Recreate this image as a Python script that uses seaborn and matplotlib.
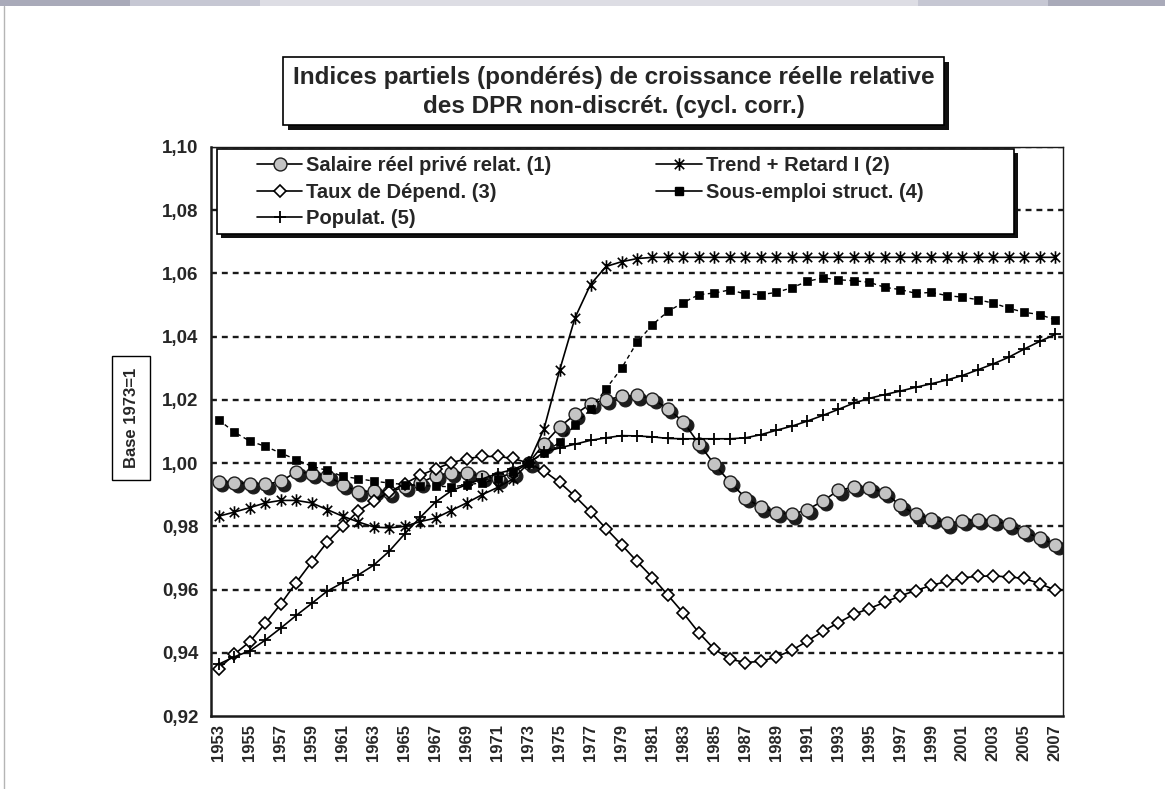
import matplotlib
matplotlib.use("Agg")
import numpy as np
import matplotlib.pyplot as plt
import matplotlib.transforms as mtransforms
from matplotlib.path import Path
from matplotlib.lines import Line2D
from matplotlib.patches import Rectangle
import seaborn as sns

years = list(range(1953, 2008))

salaire = [0.9941, 0.9937, 0.9935, 0.9933, 0.9942, 0.9972, 0.9967, 0.9960, 0.9932, 0.9909,
           0.9912, 0.9908, 0.9925, 0.9937, 0.9960, 0.9970, 0.9969, 0.9957, 0.9952, 0.9970,
           1.0000, 1.0061, 1.0114, 1.0154, 1.0188, 1.0200, 1.0211, 1.0214, 1.0203, 1.0172,
           1.0130, 1.0061, 0.9996, 0.9940, 0.9890, 0.9860, 0.9843, 0.9838, 0.9853, 0.9880,
           0.9914, 0.9924, 0.9921, 0.9907, 0.9866, 0.9838, 0.9824, 0.9809, 0.9817, 0.9821,
           0.9817, 0.9806, 0.9782, 0.9763, 0.9742]

trend = [0.9832, 0.9845, 0.9859, 0.9874, 0.9882, 0.9882, 0.9874, 0.9853, 0.9832, 0.9814,
         0.9798, 0.9795, 0.9800, 0.9815, 0.9826, 0.9850, 0.9874, 0.9900, 0.9923, 0.9950,
         1.0000, 1.0109, 1.0293, 1.0460, 1.0565, 1.0622, 1.0637, 1.0647, 1.0651, 1.0651,
         1.0651, 1.0651, 1.0651, 1.0651, 1.0651, 1.0651, 1.0651, 1.0651, 1.0651, 1.0651,
         1.0651, 1.0651, 1.0651, 1.0651, 1.0651, 1.0651, 1.0651, 1.0651, 1.0651, 1.0651,
         1.0651, 1.0651, 1.0651, 1.0651, 1.0651]

taux = [0.9350, 0.9395, 0.9435, 0.9493, 0.9554, 0.9622, 0.9687, 0.9750, 0.9800, 0.9848,
        0.9880, 0.9908, 0.9935, 0.9961, 0.9982, 1.0001, 1.0014, 1.0021, 1.0021, 1.0015,
        1.0000, 0.9975, 0.9939, 0.9895, 0.9846, 0.9793, 0.9742, 0.9689, 0.9638, 0.9582,
        0.9525, 0.9463, 0.9411, 0.9380, 0.9369, 0.9373, 0.9387, 0.9408, 0.9437, 0.9468,
        0.9495, 0.9522, 0.9540, 0.9560, 0.9580, 0.9597, 0.9613, 0.9626, 0.9637, 0.9642,
        0.9643, 0.9640, 0.9635, 0.9619, 0.9598]

sous_emploi = [1.0137, 1.0098, 1.0070, 1.0053, 1.0032, 1.0011, 0.9990, 0.9977, 0.9958, 0.9951,
               0.9943, 0.9937, 0.9932, 0.9929, 0.9927, 0.9925, 0.9931, 0.9938, 0.9950, 0.9972,
               1.0000, 1.0032, 1.0066, 1.0121, 1.0170, 1.0235, 1.0300, 1.0382, 1.0438, 1.0480,
               1.0508, 1.0533, 1.0538, 1.0548, 1.0535, 1.0533, 1.0540, 1.0555, 1.0575, 1.0586,
               1.0580, 1.0577, 1.0572, 1.0556, 1.0549, 1.0537, 1.0540, 1.0530, 1.0525, 1.0517,
               1.0506, 1.0490, 1.0477, 1.0470, 1.0453]

populat = [0.9364, 0.9387, 0.9406, 0.9440, 0.9478, 0.9518, 0.9556, 0.9595, 0.9622, 0.9646,
           0.9677, 0.9721, 0.9776, 0.9828, 0.9877, 0.9912, 0.9932, 0.9950, 0.9967, 0.9980,
           1.0000, 1.0035, 1.0048, 1.0060, 1.0072, 1.0080, 1.0087, 1.0086, 1.0083, 1.0078,
           1.0077, 1.0077, 1.0077, 1.0077, 1.0080, 1.0090, 1.0104, 1.0117, 1.0133, 1.0151,
           1.0170, 1.0190, 1.0205, 1.0217, 1.0228, 1.0240, 1.0251, 1.0263, 1.0277, 1.0295,
           1.0314, 1.0335, 1.0361, 1.0385, 1.0407]

labels = ["Salaire réel privé relat. (1)", "Trend + Retard I (2)", "Taux de Dépend. (3)",
          "Sous-emploi struct. (4)", "Populat. (5)"]
title = "Indices partiels (pondérés) de croissance réelle relative\ndes DPR non-discrét. (cycl. corr.)"
yticks = [0.92, 0.94, 0.96, 0.98, 1.00, 1.02, 1.04, 1.06, 1.08, 1.10]

sns.set_style("white")
plt.rcParams["font.family"] = ["Liberation Sans", "DejaVu Sans"]
plt.rcParams["font.weight"] = "bold"

W, H = 1165, 789
fig = plt.figure(figsize=(W / 100, H / 100), dpi=100)
fx = lambda x: x / W
fy = lambda y: 1 - y / H

# page decoration (gray band at top, thin line on the left)
for x0, x1, c in [(0, 130, "#a9aab9"), (130, 260, "#c6c7d3"), (260, 918, "#dddde4"),
                  (918, 1048, "#c6c7d3"), (1048, 1165, "#a9aab9")]:
    fig.add_artist(Rectangle((fx(x0), fy(6)), fx(x1 - x0), 6 / H, transform=fig.transFigure,
                             facecolor=c, edgecolor="none"))
fig.add_artist(Line2D([fx(4), fx(4)], [fy(6), 0], transform=fig.transFigure, color="#b5b5b5", lw=1))

ax = fig.add_axes([fx(211), fy(716), fx(1063 - 211), (716 - 147) / H])
pos = np.arange(len(years))

# asterisk marker: X plus a vertical bar
star = Path([(0, -1), (0, 1), (-0.75, -0.75), (0.75, 0.75), (-0.75, 0.75), (0.75, -0.75)],
            [Path.MOVETO, Path.LINETO] * 3)

shadow = ax.transData + mtransforms.ScaledTranslation(2.4 / 72, -2.4 / 72, fig.dpi_scale_trans)
sns.lineplot(x=pos, y=salaire, ax=ax, estimator=None, legend=False, linestyle="none",
             marker="o", markersize=9.3, color="#1c1c1c", markerfacecolor="#1c1c1c",
             markeredgecolor="#1c1c1c", transform=shadow, zorder=2)
sns.lineplot(x=pos, y=salaire, ax=ax, estimator=None, legend=False, color="black", lw=1.2,
             marker="o", markersize=9.3, markerfacecolor="#c4c4c4", markeredgecolor="#1c1c1c",
             markeredgewidth=1.0, zorder=3)
sns.lineplot(x=pos, y=trend, ax=ax, estimator=None, legend=False, color="black", lw=1.2,
             marker=star, markersize=9, markerfacecolor="none", markeredgecolor="black",
             markeredgewidth=1.2, zorder=4)
sns.lineplot(x=pos, y=taux, ax=ax, estimator=None, legend=False, color="black", lw=1.2,
             marker="D", markersize=6.5, markerfacecolor="white", markeredgecolor="black",
             markeredgewidth=1.2, zorder=5)
sns.lineplot(x=pos, y=sous_emploi, ax=ax, estimator=None, legend=False, color="black", lw=1.0,
             linestyle=(0, (3, 2.5)), marker="s", markersize=5.4, markerfacecolor="black",
             markeredgecolor="black", markeredgewidth=0.5, zorder=6)
sns.lineplot(x=pos, y=populat, ax=ax, estimator=None, legend=False, color="black", lw=1.2,
             marker="+", markersize=9, markeredgecolor="black", markeredgewidth=1.3, zorder=7)

ax.set_xlim(-0.5, len(years) - 0.5)
ax.set_ylim(0.92, 1.10)
ax.set_yticks(yticks)
ax.set_yticklabels([f"{v:.2f}".replace(".", ",") for v in yticks], fontsize=13.5, fontweight="bold")
ax.set_xticks(pos[::2])
ax.set_xticklabels([str(y) for y in years[::2]], rotation=90, fontsize=12, fontweight="bold")
ax.set_xticks(np.arange(-0.5, len(years), 1), minor=True)
ax.tick_params(axis="x", which="major", length=0, pad=6)
ax.tick_params(axis="x", which="minor", length=5, width=1.2, direction="out", color="#222")
ax.tick_params(axis="y", length=5, width=1.2, direction="out", color="#222", pad=4)
ax.set_xlabel("")
ax.set_ylabel("")

for v in yticks[1:]:
    ax.axhline(v, color="#1a1a1a", lw=1.7, linestyle=(0, (2.5, 2.1)), zorder=1)

for side in ["left", "bottom"]:
    ax.spines[side].set_linewidth(1.8)
    ax.spines[side].set_color("#1a1a1a")
for side in ["top", "right"]:
    ax.spines[side].set_linewidth(1.0)
    ax.spines[side].set_color("#1a1a1a")

# title box with drop shadow
fig.add_artist(Rectangle((fx(288), fy(130)), fx(944 - 283), (125 - 57) / H, transform=fig.transFigure,
                         facecolor="#111", edgecolor="none"))
fig.add_artist(Rectangle((fx(283), fy(125)), fx(944 - 283), (125 - 57) / H, transform=fig.transFigure,
                         facecolor="white", edgecolor="black", lw=1.2))
fig.text(fx(613.5), fy(92), title, ha="center", va="center", fontsize=17.5, fontweight="bold",
         linespacing=1.3)

# legend box with drop shadow
fig.add_artist(Rectangle((fx(221), fy(238)), fx(1014 - 217), (234 - 149) / H, transform=fig.transFigure,
                         facecolor="#111", edgecolor="none", zorder=8))
fig.add_artist(Rectangle((fx(217), fy(234)), fx(1014 - 217), (234 - 149) / H, transform=fig.transFigure,
                         facecolor="white", edgecolor="black", lw=1.2, zorder=9))
handles = [
    Line2D([], [], color="black", lw=1.2, marker="o", markersize=9.3, markerfacecolor="#c4c4c4",
           markeredgecolor="#1c1c1c"),
    Line2D([], [], color="black", lw=1.2, marker="D", markersize=6.5, markerfacecolor="white",
           markeredgecolor="black", markeredgewidth=1.2),
    Line2D([], [], color="black", lw=1.2, marker="+", markersize=9, markeredgewidth=1.3),
    Line2D([], [], color="black", lw=1.2, marker=star, markersize=9, markerfacecolor="none",
           markeredgewidth=1.2),
    Line2D([], [], color="black", lw=1.2, marker="s", markersize=5.4),
]
leg_labels = [labels[0], labels[2], labels[4], labels[1], labels[3]]
leg = fig.legend(handles, leg_labels, loc="upper left", bbox_to_anchor=(fx(257), fy(156)),
                 ncol=2, frameon=False, prop={"weight": "bold", "size": 14.5},
                 handlelength=2.25, handletextpad=0.2, columnspacing=5.2, labelspacing=0.38,
                 borderpad=0, borderaxespad=0, numpoints=1)
leg.set_zorder(10)

fig.text(fx(131), fy(418), "Base 1973=1", rotation=90, ha="center", va="center", fontsize=12,
         fontweight="bold", bbox=dict(boxstyle="square,pad=0.7", facecolor="white",
                                      edgecolor="black", lw=1.0))

fig.savefig("out.png", dpi=100, facecolor="white")
